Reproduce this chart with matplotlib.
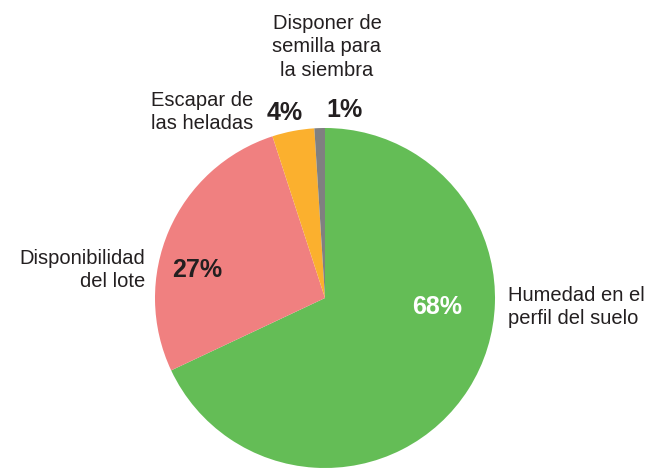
import matplotlib.pyplot as plt

labels = ["Humedad en el\nperfil del suelo", "Disponibilidad\ndel lote",
          "Escapar de\nlas heladas", "Disponer de\nsemilla para\nla siembra"]
values = [68, 27, 4, 1]
colors = ["#64BD56", "#F08080", "#FBB02E", "#808080"]

plt.rcParams["font.family"] = ["Liberation Sans", "DejaVu Sans"]

W, H = 648, 468
cx, cy, r = 325, 298, 170

fig = plt.figure(figsize=(W / 100, H / 100), dpi=100)
ax = fig.add_axes([(cx - r) / W, (H - cy - r) / H, 2 * r / W, 2 * r / H])
ax.pie(values, colors=colors, startangle=90, counterclock=False,
       radius=1, wedgeprops=dict(linewidth=0))
ax.set_xlim(-1, 1)
ax.set_ylim(-1, 1)
ax.set_aspect("equal")
ax.axis("off")


def px(x, y):
    return x / W, 1 - y / H


txt = "#231F20"
# category labels
fig.text(*px(508, 307), labels[0], ha="left", va="center", fontsize=14.5,
         color=txt, linespacing=1.3)
fig.text(*px(145, 270), labels[1], ha="right", va="center", fontsize=14.5,
         color=txt, linespacing=1.3)
fig.text(*px(253, 112), labels[2], ha="right", va="center", fontsize=14.5,
         color=txt, linespacing=1.3)
fig.text(*px(327, 47), labels[3], ha="center", va="center", fontsize=14.5,
         color=txt, linespacing=1.3)

# percentages
pct = [f"{v}%" for v in values]
fig.text(*px(437, 307), pct[0], ha="center", va="center", fontsize=18,
         color="white", fontweight="bold")
fig.text(*px(197, 270), pct[1], ha="center", va="center", fontsize=18,
         color=txt, fontweight="bold")
fig.text(*px(285, 113), pct[2], ha="center", va="center", fontsize=18,
         color=txt, fontweight="bold")
fig.text(*px(345, 110), pct[3], ha="center", va="center", fontsize=18,
         color=txt, fontweight="bold")

fig.savefig("out.png", dpi=100)
